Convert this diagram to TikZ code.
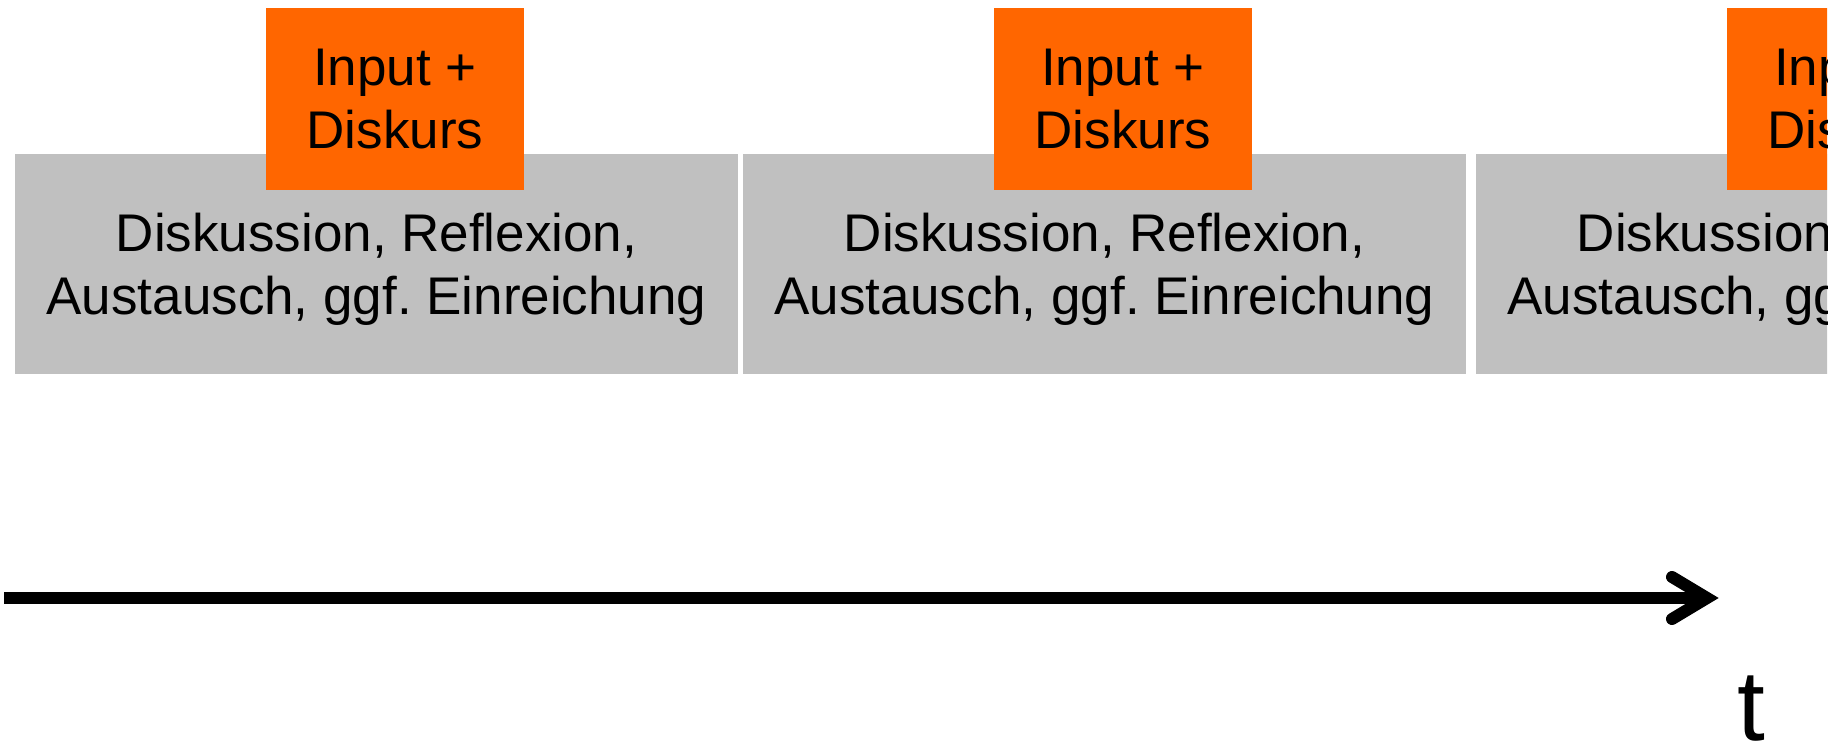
\documentclass[tikz,border=0pt]{standalone}
\usepackage{fontspec}
\setmainfont{Liberation Sans}
\frenchspacing
\definecolor{boxgray}{HTML}{C0C0C0}
\definecolor{inputorange}{HTML}{FF6600}
\tikzset{
  graybox/.style={fill=boxgray, minimum width=723pt, minimum height=220pt, inner sep=0pt},
  phasetext/.style={align=center, inner sep=0pt, font=\fontsize{53pt}{63pt}\selectfont},
  orangebox/.style={fill=inputorange, minimum width=258pt, minimum height=182pt, inner sep=0pt,
    align=center, font=\fontsize{53pt}{63.5pt}\selectfont},
  axis/.style={line width=12pt, black},
  axislabel/.style={font=\fontsize{100pt}{100pt}\selectfont, inner sep=0pt, anchor=base}
}
\begin{document}
\begin{tikzpicture}[x=1pt,y=-1pt]
\useasboundingbox (0,0) rectangle (1847,744);
\begin{scope}
\clip (0,0) rectangle (1827,744);
\node[graybox] (g1) at (376.5,264) {};
\node[graybox] (g2) at (1104.5,264) {};
\node[graybox] (g3) at (1837.5,264) {};
\node[phasetext] (t1) at ([yshift=-5.75pt]g1.center) {Diskussion, Reflexion,\\Austausch, ggf.\ Einreichung};
\node[phasetext] (t2) at ([yshift=-5.75pt]g2.center) {Diskussion, Reflexion,\\Austausch, ggf.\ Einreichung};
\node[phasetext] (t3) at ([yshift=-5.75pt]g3.center) {Diskussion, Reflexion,\\Austausch, ggf.\ Einreichung};
\node[orangebox] (o1) at (395,99) {Input +\\Diskurs};
\node[orangebox] (o2) at (1123,99) {Input +\\Diskurs};
\node[orangebox] (o3) at (1856,99) {Input +\\Diskurs};
\end{scope}
\coordinate (axstart) at (4,598);
\coordinate (axvertex) at (1707,598);
\coordinate (wingtop) at (1672,577);
\coordinate (wingbot) at (1672,619);
\draw[axis] (axstart) -- (axvertex);
\draw[axis, line cap=round, line join=miter] (wingtop) -- (axvertex) -- (wingbot);
\node[axislabel] (tlabel) at (1751,740) {t};
\end{tikzpicture}
\end{document}
